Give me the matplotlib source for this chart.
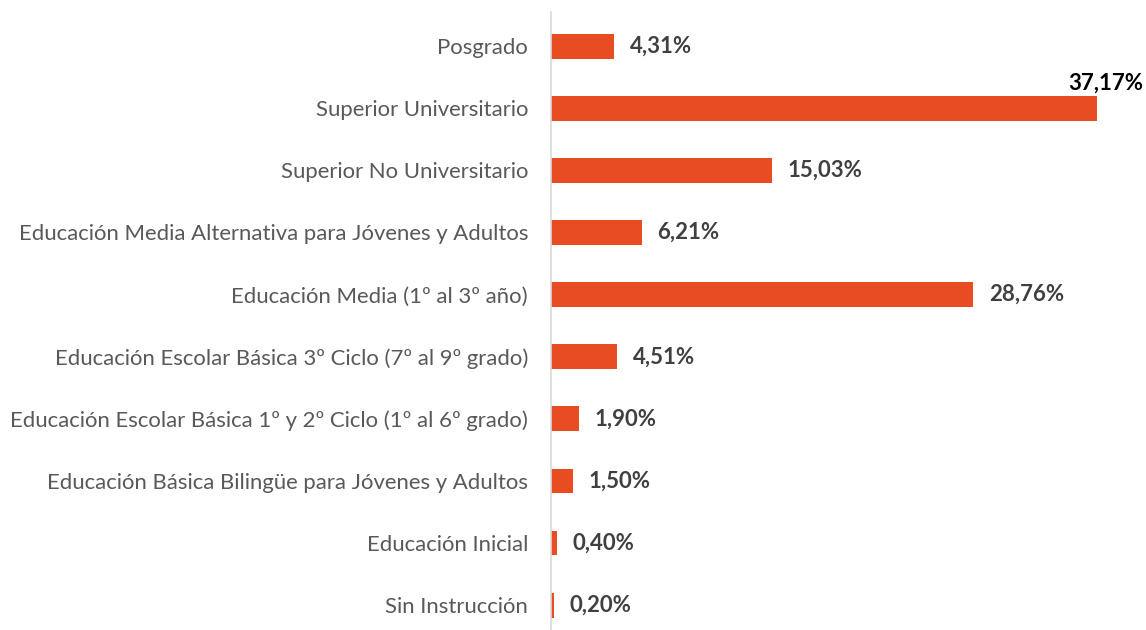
import matplotlib
matplotlib.use("Agg")
import matplotlib.pyplot as plt

categories = [
    "Sin Instrucción",
    "Educación Inicial",
    "Educación Básica Bilingüe para Jóvenes y Adultos",
    "Educación Escolar Básica 1º y 2º Ciclo (1º al 6º grado)",
    "Educación Escolar Básica 3º Ciclo (7º al 9º grado)",
    "Educación Media (1º al 3º año)",
    "Educación Media Alternativa para Jóvenes y Adultos",
    "Superior No Universitario",
    "Superior Universitario",
    "Posgrado",
]
values = [0.20, 0.40, 1.50, 1.90, 4.51, 28.76, 6.21, 15.03, 37.17, 4.31]
labels = ["0,20%", "0,40%", "1,50%", "1,90%", "4,51%", "28,76%", "6,21%", "15,03%", "37,17%", "4,31%"]

plt.rcParams['font.family'] = ['Lato', 'DejaVu Sans']

fig = plt.figure(figsize=(11.46, 6.30), dpi=100)
ax = fig.add_axes([551/1146, 0.0, (1138.6-551)/1146, 618/630])

ypos = list(range(len(categories)))
ax.barh(ypos, values, height=0.4, color="#E84C22")
ax.set_xlim(0, 40)
ax.set_ylim(-0.4, 9.55)
ax.set_yticks(ypos)
ax.set_yticklabels(categories, fontsize=15.9, color="#595959")
ax.tick_params(axis='y', length=0, pad=16.5)
ax.set_xticks([])
for s in ["top", "right", "bottom"]:
    ax.spines[s].set_visible(False)
ax.spines["left"].set_color("#D9D9D9")
ax.spines["left"].set_linewidth(1.2)

vmax = max(values)
for y, v, t in zip(ypos, values, labels):
    if v == vmax:
        ax.annotate(t, xy=(v, y), xytext=(6, 18), textcoords="offset points",
                    ha="center", va="center", fontsize=16, fontweight="bold", color="#000000")
    else:
        ax.annotate(t, xy=(v, y), xytext=(11, 0), textcoords="offset points",
                    ha="left", va="center", fontsize=16, fontweight="bold", color="#404040")

fig.savefig("out.png", dpi=100)
